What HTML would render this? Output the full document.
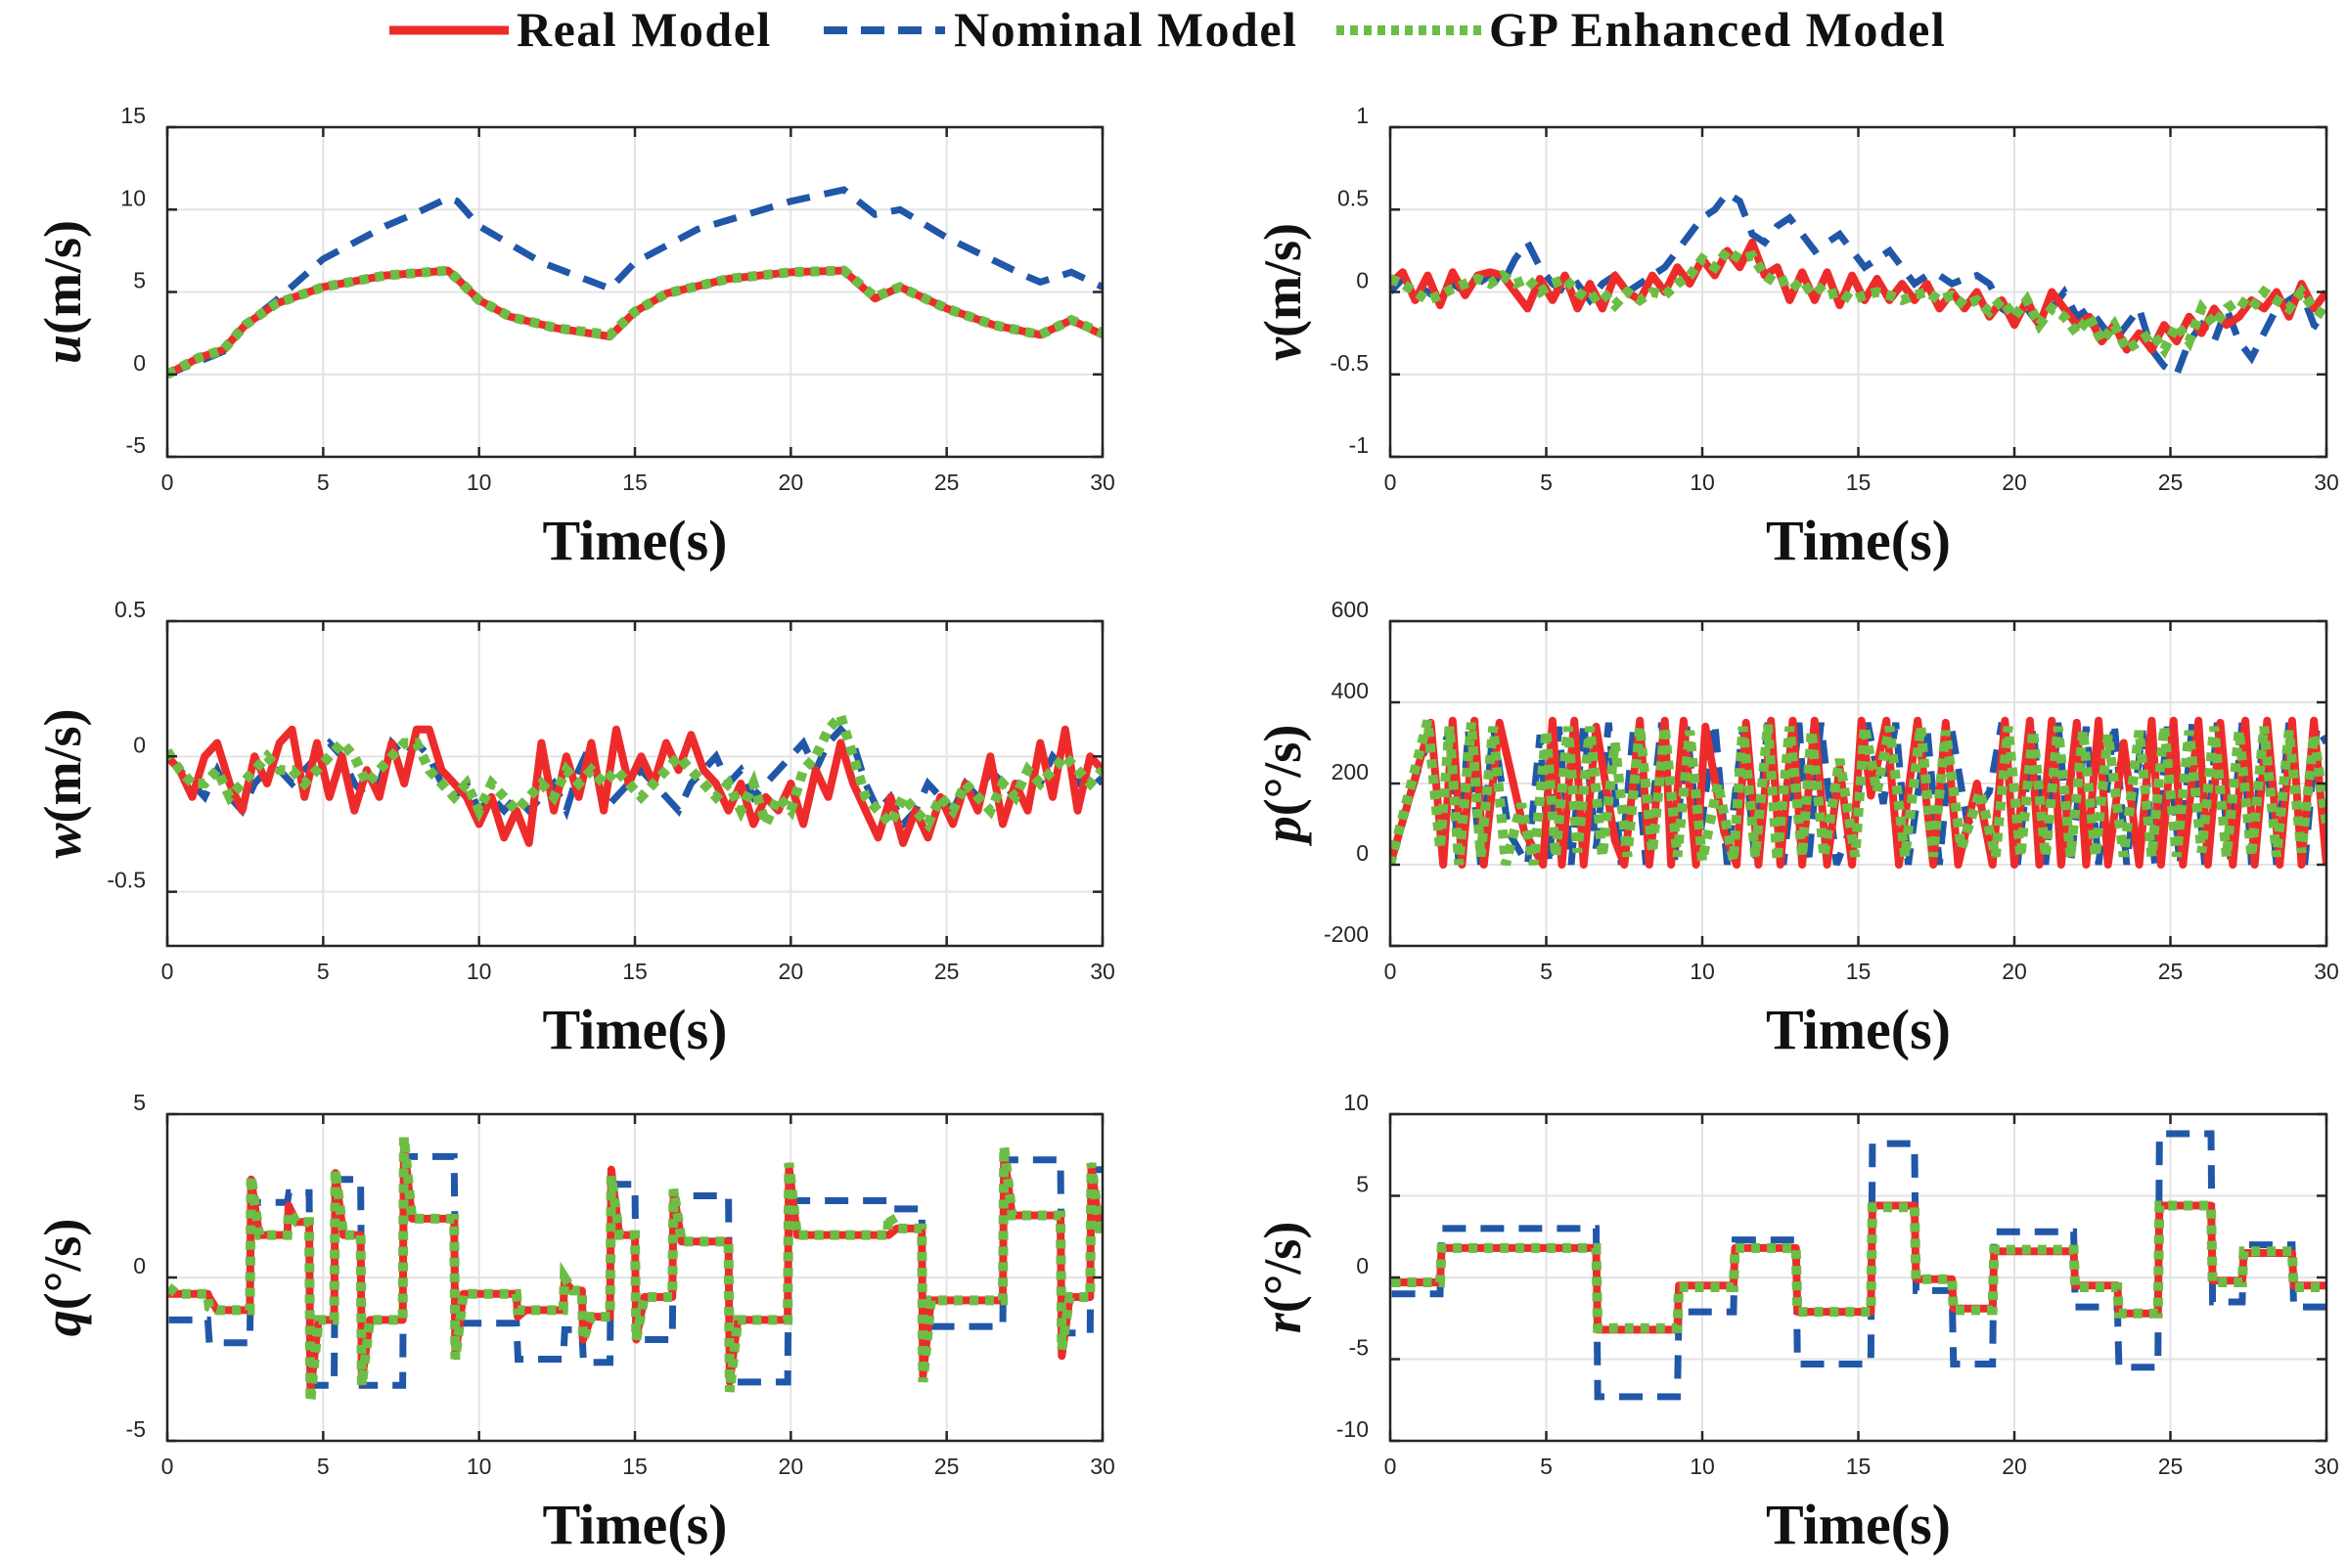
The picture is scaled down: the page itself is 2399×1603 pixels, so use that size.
<!DOCTYPE html>
<html><head><meta charset="utf-8"><style>
html,body{margin:0;padding:0;background:#fff;}
svg{display:block;}
.tick{font-family:"Liberation Sans",sans-serif;font-size:23px;fill:#262626;}
.xl{font-family:"Liberation Serif",serif;font-size:58px;font-weight:bold;fill:#111;}
.yl{font-family:"Liberation Serif",serif;font-size:54px;font-weight:bold;fill:#111;}
.lg{font-family:"Liberation Serif",serif;font-size:50px;font-weight:bold;letter-spacing:1.5px;fill:#111;}
</style></head><body>
<svg id="fig" width="2399" height="1603" viewBox="0 0 2399 1603" xmlns="http://www.w3.org/2000/svg">
<g>
<line x1="398" y1="31" x2="520" y2="31" stroke="#ee2b2b" stroke-width="9"/>
<text x="528" y="47" class="lg">Real Model</text>
<line x1="842" y1="31" x2="966" y2="31" stroke="#2157a8" stroke-width="8" stroke-dasharray="24,14"/>
<text x="975" y="47" class="lg">Nominal Model</text>
<line x1="1366" y1="31" x2="1515" y2="31" stroke="#6cbd45" stroke-width="10" stroke-dasharray="8,6"/>
<text x="1522" y="47" class="lg">GP Enhanced Model</text>
</g>
</svg>
<script>
// ---------- data ----------
const xTicks = [0,5,10,15,20,25,30];
// u
const uRealT = [0,1,1.8,2.5,3.5,5,7,9,9.3,10,11,12.5,14.2,15,16,18,20,21.7,22.7,23.5,25,26.5,28,29,30];
const uRealV = [0,1.0,1.5,3,4.3,5.3,6.0,6.3,5.8,4.5,3.5,2.8,2.3,3.8,4.9,5.8,6.2,6.3,4.6,5.3,4.0,3.0,2.4,3.3,2.4];
const uGpV   = [0,1.0,1.5,3,4.3,5.3,6.0,6.3,5.8,4.5,3.5,2.8,2.4,3.8,4.9,5.8,6.2,6.3,4.7,5.3,4.0,3.0,2.4,3.3,2.5];
const uNomT = [0,1.8,2.5,3.5,5,7,8,9,9.3,10,12,14.2,15,17,20,21.7,22.7,23.5,25,27.5,28,29,30];
const uNomV = [0,1.4,3,4.5,7,9,9.8,10.7,10.5,9,6.8,5.2,6.8,8.8,10.5,11.2,9.7,10.0,8.3,6,5.6,6.2,5.3];
const uYTicks = [-5,0,5,10,15];
// v, w sampled every 0.4 s
const sampleDt = 0.4;
const vReal = [0.05,0.12,-0.05,0.1,-0.08,0.12,-0.02,0.1,0.12,0.1, 0.0,-0.1,0.08,-0.05,0.1,-0.1,0.05,-0.1,0.1,0.0, -0.05,0.1,0.0,0.15,0.05,0.2,0.1,0.25,0.15,0.3, 0.1,0.15,-0.05,0.12,-0.05,0.12,-0.08,0.1,-0.05,0.08, -0.05,0.05,-0.05,0.05,-0.1,0.0,-0.1,0.0,-0.15,-0.05, -0.2,-0.05,-0.2,0.0,-0.1,-0.2,-0.15,-0.3,-0.2,-0.35, -0.25,-0.35,-0.2,-0.3,-0.15,-0.25,-0.1,-0.2,-0.15,-0.05, -0.1,0.0,-0.15,0.05,-0.1,0.0];
const vNom = [0,0.08,0.05,0.0,-0.05,0.05,0.0,0.05,0.1,0.05, 0.2,0.3,0.15,0.05,0.0,0.05,-0.05,0.05,0.1,0.0, 0.05,0.1,0.15,0.25,0.35,0.45,0.5,0.6,0.55,0.35, 0.3,0.4,0.45,0.35,0.25,0.3,0.35,0.25,0.15,0.2, 0.25,0.15,0.05,0.1,0.1,0.05,0.08,0.1,0.05,-0.1, -0.15,-0.1,-0.2,-0.1,0.0,-0.15,-0.1,-0.2,-0.3,-0.2, -0.1,-0.35,-0.45,-0.5,-0.3,-0.2,-0.3,-0.1,-0.3,-0.4, -0.25,-0.1,-0.05,0.0,-0.2,-0.25];
const vGp = [0.08,0.05,0.0,-0.05,-0.02,0.02,0.05,0.08,0.05,0.1, 0.05,0.08,0.0,0.05,0.08,0.0,-0.05,0.0,-0.08,0.0, -0.05,0.0,-0.02,0.05,0.1,0.2,0.15,0.25,0.2,0.22, 0.1,0.05,0.08,0.0,0.05,-0.02,0.0,-0.05,-0.02,0.0, -0.02,-0.05,-0.02,0.0,-0.05,-0.02,-0.08,-0.05,-0.12,-0.05, -0.15,-0.05,-0.2,-0.1,-0.15,-0.25,-0.15,-0.3,-0.2,-0.35, -0.3,-0.25,-0.35,-0.2,-0.3,-0.1,-0.2,-0.1,-0.05,-0.1, 0.0,-0.05,-0.1,0.0,-0.1,-0.15];
const vYTicks = [-1,-0.5,0,0.5,1];
const wReal = [0,-0.05,-0.15,0.0,0.05,-0.1,-0.2,0.0,-0.1,0.05, 0.1,-0.15,0.05,-0.15,0.0,-0.2,-0.05,-0.15,0.05,-0.1, 0.1,0.1,-0.05,-0.1,-0.15,-0.25,-0.15,-0.3,-0.2,-0.32, 0.05,-0.2,0.0,-0.15,0.05,-0.2,0.1,-0.1,0.0,-0.1, 0.05,-0.05,0.08,-0.05,-0.1,-0.2,-0.1,-0.25,-0.15,-0.2, -0.1,-0.25,-0.05,-0.15,0.05,-0.1,-0.2,-0.3,-0.15,-0.32, -0.2,-0.3,-0.15,-0.25,-0.1,-0.2,0.0,-0.25,-0.1,-0.2, 0.05,-0.15,0.1,-0.2,0.0,-0.05];
const wNom = [0,-0.05,-0.1,-0.15,-0.05,-0.15,-0.2,-0.1,-0.05,-0.05, -0.1,-0.05,0.0,0.05,0.0,-0.1,-0.15,-0.1,0.05,0.0, 0.05,0.0,-0.1,-0.15,-0.1,-0.2,-0.15,-0.2,-0.15,-0.2, -0.15,-0.1,-0.2,-0.05,0.05,-0.2,-0.15,-0.1,-0.05,-0.1, -0.15,-0.2,-0.1,-0.05,0.0,-0.1,-0.05,-0.15,-0.1,-0.05, 0.0,0.05,-0.05,0.05,0.1,0.05,-0.1,-0.2,-0.15,-0.25, -0.2,-0.1,-0.15,-0.2,-0.1,-0.15,-0.05,-0.1,-0.15,-0.05, -0.1,0.0,-0.05,-0.1,-0.05,-0.1];
const wGp = [0.02,-0.05,-0.1,-0.1,-0.05,-0.15,-0.1,-0.05,0.0,-0.05, -0.05,-0.1,-0.05,0.0,0.05,0.0,-0.1,-0.05,0.0,0.05, 0.05,-0.05,-0.1,-0.15,-0.1,-0.2,-0.1,-0.15,-0.2,-0.15, -0.1,-0.15,-0.05,-0.1,-0.05,-0.1,-0.05,-0.1,-0.15,-0.1, -0.05,0.0,-0.05,-0.1,-0.15,-0.1,-0.2,-0.1,-0.25,-0.15, -0.2,-0.05,0.0,0.1,0.15,0.0,-0.15,-0.2,-0.25,-0.15, -0.2,-0.25,-0.15,-0.2,-0.1,-0.15,-0.2,-0.1,-0.15,-0.05, -0.1,-0.05,0.0,-0.05,-0.1,-0.05];
const wYTicks = [-0.5,0,0.5];
// p
const pRealT = [0,1.3,1.7,2.0,2.3,2.7,3.0,3.5,4.3,4.9,5.2,5.5,5.9,6.2,6.6,7.2,7.5,8.0,8.3,8.8,9.0,9.4,9.8,10.1,10.7,11.1,11.4,11.8,12.2,12.5,12.9,13.2,13.6,14.0,14.4,14.8,15.1,15.4,15.9,16.3,16.9,17.4,17.8,18.2,18.8,19.3,19.7,20.0,20.5,20.8,21.2,21.5,22.0,22.3,22.7,23.0,23.5,24.0,24.4,24.7,25.1,25.4,25.9,26.2,26.6,27.0,27.4,27.7,28.1,28.5,28.9,29.2,29.6,30];
const pRealV = [0,350,0,355,0,355,0,350,80,0,355,0,355,0,340,60,0,355,0,355,0,355,0,340,80,0,350,0,355,0,355,0,355,0,240,0,355,170,355,0,355,0,350,0,200,0,355,0,355,0,355,0,350,0,355,0,300,0,355,0,355,0,355,0,350,0,355,0,355,0,355,0,355,0];
const pNomT = [0,1.0,1.4,1.9,2.2,2.5,2.9,3.3,3.8,4.4,4.8,5.1,5.4,5.8,6.2,6.6,7.0,7.4,7.8,8.2,8.7,9.1,9.5,9.9,10.4,10.8,11.3,11.7,12.1,12.6,13.1,13.4,13.8,14.3,14.9,15.3,15.8,16.2,16.6,17.2,17.6,18.0,18.5,19.2,19.6,20.1,20.6,21.0,21.4,21.8,22.3,22.7,23.2,23.6,24.1,24.5,24.9,25.3,25.7,26.1,26.5,26.9,27.3,27.6,28.0,28.4,28.8,29.3,29.7,30];
const pNomV = [0,260,330,310,0,330,0,340,80,0,320,0,340,0,350,40,350,0,340,0,350,0,340,50,350,0,340,0,350,0,350,0,350,0,120,350,150,350,0,340,0,330,100,180,350,0,340,0,350,0,340,0,350,0,330,0,340,0,350,0,350,0,350,0,340,0,350,0,340,300];
const pGpT = [0,1.2,1.6,1.9,2.2,2.6,2.9,3.3,3.7,4.2,4.6,5.0,5.3,5.7,6.0,6.4,6.8,7.2,7.6,8.0,8.4,8.8,9.2,9.6,10.0,10.5,11.0,11.3,11.7,12.1,12.4,12.8,13.2,13.5,13.9,14.4,14.9,15.2,15.6,16.0,16.5,17.0,17.4,17.8,18.3,18.9,19.4,19.8,20.2,20.6,21.0,21.4,21.8,22.2,22.6,23.0,23.5,24.0,24.4,24.8,25.2,25.6,26.0,26.4,26.8,27.2,27.6,28.0,28.4,28.8,29.2,29.6,30];
const pGpV = [0,355,40,340,0,350,20,340,0,150,0,330,20,340,30,340,20,300,20,340,30,340,20,330,10,200,10,340,20,345,10,340,20,330,20,260,20,340,180,340,20,340,20,330,40,180,20,340,20,330,20,340,20,330,20,320,20,330,20,340,20,330,30,340,20,330,20,340,20,330,30,320,100];
const pYTicks = [-200,0,200,400,600];
// q : switching times, level after switch, transient peak at switch
const qSwitchT = [0,1.3,2.65,3.85,4.55,5.35,6.2,7.55,9.2,11.2,12.7,13.3,14.2,15.0,16.2,18.0,19.9,23.1,24.2,26.8,28.65,29.6];
const qRealLevel = [-0.5,-1.0,1.3,1.7,-1.3,1.3,-1.3,1.8,-0.5,-1.0,-0.4,-1.2,1.3,-0.6,1.1,-1.3,1.3,1.5,-0.7,1.9,-0.6,1.5];
const qRealPeak  = [-0.5,-0.6,3.0,2.2,-3.5,3.2,-3.2,4.1,-2.4,-1.2,-0.1,-1.9,3.3,-1.9,2.6,-3.2,3.4,1.3,-3.0,3.8,-2.4,3.4];
const qGpLevel = [-0.5,-1.0,1.3,1.7,-1.3,1.3,-1.3,1.8,-0.5,-1.0,-0.4,-1.2,1.3,-0.6,1.1,-1.3,1.3,1.5,-0.7,1.9,-0.6,1.5];
const qGpPeak  = [-0.3,-0.9,3.1,2.0,-3.8,3.3,-3.3,4.3,-2.5,-1.0,0,-1.9,3.1,-1.9,2.7,-3.5,3.5,1.9,-3.2,4.0,-2.2,3.5];
const qNomLevel = [-1.3,-2.0,2.3,2.6,-3.3,3.0,-3.3,3.7,-1.4,-2.5,-1.6,-2.6,2.85,-1.9,2.5,-3.2,2.35,2.1,-1.5,3.6,-1.7,3.3];
const qYTicks = [-5,0,5];
// r : switching times and levels
const rSwitchT = [0,1.6,6.6,9.2,11.0,13.0,15.4,16.8,18.0,19.3,21.9,23.3,24.6,26.3,27.3,28.9];
const rRealLevel = [-0.3,1.8,-3.2,-0.5,1.8,-2.1,4.4,-0.1,-1.9,1.6,-0.5,-2.2,4.4,-0.2,1.5,-0.5];
const rGpLevel   = [-0.3,1.8,-3.1,-0.6,1.8,-2.1,4.3,-0.1,-2.0,1.7,-0.6,-2.2,4.4,-0.3,1.6,-0.6];
const rNomLevel  = [-1.0,3.0,-7.3,-2.1,2.3,-5.3,8.2,-0.8,-5.3,2.8,-1.8,-5.5,8.8,-1.5,2.0,-1.8];
const rYTicks = [-10,-5,0,5,10];

// ---------- drawing ----------
const NS = "http://www.w3.org/2000/svg";
const svg = document.getElementById('fig');
function mk(tag, attrs, parent){ const e=document.createElementNS(NS,tag); for(const k in attrs) e.setAttribute(k,attrs[k]); (parent||svg).appendChild(e); return e; }
const STY = {
  real:{stroke:"#ee2b2b","stroke-width":8,fill:"none","stroke-linejoin":"round"},
  nom:{stroke:"#2157a8","stroke-width":7,fill:"none","stroke-dasharray":"24,15"},
  gp:{stroke:"#6cbd45","stroke-width":10,fill:"none","stroke-dasharray":"9,7"}
};
function makeAxes(id, x0, x1, y0, y1, ymin, ymax, yTicks, labelVar, labelRest, labelX){
  const g = mk('g',{});
  
  
  const sx = t => x0 + (t-0)/(30-0)*(x1-x0);
  const sy = v => y1 - (v-ymin)/(ymax-ymin)*(y1-y0);
  xTicks.forEach(t=>{
    const l = mk('line',{x1:sx(t),x2:sx(t),y1:y0,y2:y1,stroke:"#e3e3e3","stroke-width":2},g);
    
    
  });
  yTicks.forEach(v=>{
    const l = mk('line',{x1:x0,x2:x1,y1:sy(v),y2:sy(v),stroke:"#e3e3e3","stroke-width":2},g);
    
    
  });
  const clipId = id+'-clip';
  const cp = mk('clipPath',{id:clipId},g);
  mk('rect',{x:x0,y:y0,width:x1-x0,height:y1-y0},cp);
  const plot = mk('g',{'clip-path':'url(#'+clipId+')'},g);
  
  
  const frame = mk('g',{},g);
  
  
  mk('rect',{x:x0,y:y0,width:x1-x0,height:y1-y0,fill:"none",stroke:"#262626","stroke-width":2.5},frame);
  xTicks.forEach(t=>{
    mk('line',{x1:sx(t),x2:sx(t),y1:y1,y2:y1-10,stroke:"#262626","stroke-width":2.5},frame);
    mk('line',{x1:sx(t),x2:sx(t),y1:y0,y2:y0+10,stroke:"#262626","stroke-width":2.5},frame);
    const tx = mk('text',{x:sx(t),y:y1+34,"text-anchor":"middle",class:"tick"},frame);
    tx.textContent = t;
    
    
  });
  yTicks.forEach(v=>{
    mk('line',{x1:x0,x2:x0+10,y1:sy(v),y2:sy(v),stroke:"#262626","stroke-width":2.5},frame);
    mk('line',{x1:x1,x2:x1-10,y1:sy(v),y2:sy(v),stroke:"#262626","stroke-width":2.5},frame);
    const tx = mk('text',{x:x0-22,y:sy(v)-4,"text-anchor":"end",class:"tick"},frame);
    tx.textContent = v;
    
    
  });
  const xl = mk('text',{x:(x0+x1)/2,y:y1+105,"text-anchor":"middle",class:"xl"},frame);
  xl.textContent = "Time(s)";
  
  
  const yl = mk('text',{x:0,y:0,"text-anchor":"middle",class:"yl",transform:"translate("+(labelX+16)+","+((y0+y1)/2)+") rotate(-90)"},frame);
  
  
  const s1 = mk('tspan',{"font-style":"italic"},yl); s1.textContent = labelVar;
  const s2 = mk('tspan',{},yl); s2.textContent = labelRest;
  return {sx, sy, plot};
}
function drawLine(ax, ts, vs, style, name){
  const d = ts.map((t,i)=>(i?'L':'M')+ax.sx(t).toFixed(1)+','+ax.sy(vs[i]).toFixed(1)).join(' ');
  const p = mk('path',Object.assign({d:d},STY[style]),ax.plot);
  
  
}
function sampleTimes(n){ return Array.from({length:n},(_,i)=>i*sampleDt); }
function stepSeries(sw, lev){
  const ts=[], vs=[];
  sw.forEach((t,i)=>{ if(i>0){ts.push(t); vs.push(lev[i-1]);} ts.push(t+0.05); vs.push(lev[i]); });
  ts.push(30); vs.push(lev[lev.length-1]);
  return [ts,vs];
}
function spikeSeries(sw, lev, peak){
  const ts=[], vs=[];
  sw.forEach((t,i)=>{ if(i>0){ts.push(t); vs.push(lev[i-1]);} ts.push(t+0.04); vs.push(peak[i]); ts.push(t+0.3); vs.push(lev[i]); });
  ts.push(30); vs.push(lev[lev.length-1]);
  return [ts,vs];
}
const L0=171, L1=1127, R0=1421, R1=2378;
const ROW=[[130,467],[635,967],[1139,1473]];

const aU = makeAxes('u', L0,L1,ROW[0][0],ROW[0][1], -5,15, uYTicks, 'u','(m/s)', 66);
drawLine(aU,uNomT,uNomV,'nom','u-nominal-line');
drawLine(aU,uRealT,uRealV,'real','u-real-line');
drawLine(aU,uRealT,uGpV,'gp','u-gp-line');

const aV = makeAxes('v', R0,R1,ROW[0][0],ROW[0][1], -1,1, vYTicks, 'v','(m/s)', 1313);
drawLine(aV,sampleTimes(vNom.length),vNom,'nom','v-nominal-line');
drawLine(aV,sampleTimes(vReal.length),vReal,'real','v-real-line');
drawLine(aV,sampleTimes(vGp.length),vGp,'gp','v-gp-line');

const aW = makeAxes('w', L0,L1,ROW[1][0],ROW[1][1], -0.7,0.5, wYTicks, 'w','(m/s)', 66);
drawLine(aW,sampleTimes(wNom.length),wNom,'nom','w-nominal-line');
drawLine(aW,sampleTimes(wReal.length),wReal,'real','w-real-line');
drawLine(aW,sampleTimes(wGp.length),wGp,'gp','w-gp-line');

const aP = makeAxes('p', R0,R1,ROW[1][0],ROW[1][1], -200,600, pYTicks, 'p','(°/s)', 1313);
drawLine(aP,pNomT,pNomV,'nom','p-nominal-line');
drawLine(aP,pRealT,pRealV,'real','p-real-line');
drawLine(aP,pGpT,pGpV,'gp','p-gp-line');

const aQ = makeAxes('q', L0,L1,ROW[2][0],ROW[2][1], -5,5, qYTicks, 'q','(°/s)', 66);
const qn = stepSeries(qSwitchT,qNomLevel); drawLine(aQ,qn[0],qn[1],'nom','q-nominal-line');
const qr = spikeSeries(qSwitchT,qRealLevel,qRealPeak); drawLine(aQ,qr[0],qr[1],'real','q-real-line');
const qg = spikeSeries(qSwitchT,qGpLevel,qGpPeak); drawLine(aQ,qg[0],qg[1],'gp','q-gp-line');

const aR = makeAxes('r', R0,R1,ROW[2][0],ROW[2][1], -10,10, rYTicks, 'r','(°/s)', 1313);
const rn = stepSeries(rSwitchT,rNomLevel); drawLine(aR,rn[0],rn[1],'nom','r-nominal-line');
const rr = stepSeries(rSwitchT,rRealLevel); drawLine(aR,rr[0],rr[1],'real','r-real-line');
const rg = stepSeries(rSwitchT,rGpLevel); drawLine(aR,rg[0],rg[1],'gp','r-gp-line');
</script>
</body></html>
